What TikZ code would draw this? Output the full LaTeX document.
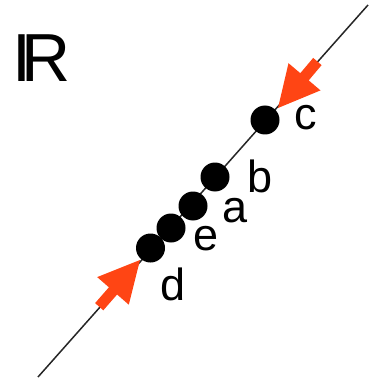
\documentclass[tikz,border=0pt]{standalone}
\usepackage{fontspec}
\setmainfont{Liberation Sans}
\definecolor{arrowred}{RGB}{255,69,20}
\tikzset{
  dot/.style={circle,fill=black,inner sep=0pt,minimum size=29pt},
  lbl/.style={anchor=base,inner sep=0pt,font=\fontsize{45}{45}\selectfont},
  blockarrow/.style={fill=arrowred},
  axisline/.style={line width=1.5pt,black!85}
}
\begin{document}
\begin{tikzpicture}[x=1pt,y=-1pt]
\useasboundingbox (0,0) rectangle (372,382);
\coordinate (lstart) at (38,377);
\coordinate (lend) at (368,5);
\draw[axisline] (lstart) -- (lend);
\node[dot] (c) at (265,120) {};
\node[dot] (b) at (215,177) {};
\node[dot] (a) at (193,206) {};
\node[dot] (e) at (171,228) {};
\node[dot] (d) at (150.5,248) {};
\node[lbl] (lc) at (306,130) {c};
\node[lbl] (lb) at (260,192) {b};
\node[lbl] (la) at (235,222) {a};
\node[lbl] (le) at (206,250) {e};
\node[lbl] (ld) at (173,300) {d};
% upper arrow pointing at c
\fill[blockarrow] (278,108) -- (320.5,90.4) -- (308.7,80.4) -- (321.6,65.1)
  -- (313.2,57.9) -- (300.3,73.2) -- (288.5,63.2) -- cycle;
% lower arrow pointing at d
\fill[blockarrow] (140,260) -- (128.8,304.7) -- (117.1,294.5) -- (103.3,310.3)
  -- (95.1,303.1) -- (108.9,287.3) -- (97.2,277.1) -- cycle;
\node[anchor=base west,inner sep=0pt,font=\fontsize{68}{68}\selectfont] (R) at (12,82) {I\kern-0.14em R};
\end{tikzpicture}
\end{document}
